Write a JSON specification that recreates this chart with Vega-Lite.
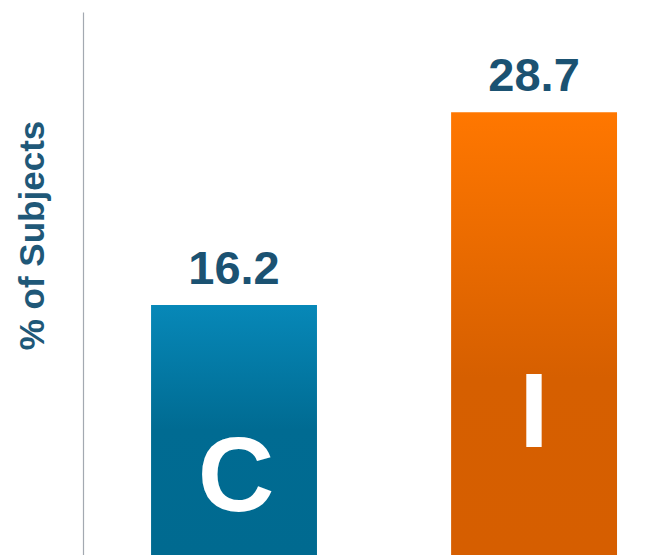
{
  "$schema": "https://vega.github.io/schema/vega-lite/v6.json",
  "width": 586,
  "height": 543,
  "autosize": {"type": "none"},
  "padding": {"left": 83, "top": 12, "right": 0, "bottom": 0},
  "background": "white",
  "config": {"view": {"stroke": null}},
  "data": {"values": [{"group": "C", "pct": 16.2}, {"group": "I", "pct": 28.7}]},
  "encoding": {
    "x": {"field": "group", "type": "nominal", "scale": {"paddingInner": 0.447, "paddingOuter": 0.2, "align": 0.567}, "axis": null},
    "y": {"field": "pct", "type": "quantitative", "scale": {"domain": [0, 35.2], "nice": false},
      "axis": {"title": "% of Subjects", "labels": false, "ticks": false, "grid": false,
        "domainColor": "#a3a9b1", "domainWidth": 1.2,
        "titleFont": "Liberation Sans", "titleFontSize": 35, "titleFontWeight": "bold", "titleColor": "#1f5878",
        "titleX": -51, "titleY": 223, "titleAngle": -90, "titleAlign": "center", "titleBaseline": "middle"}}
  },
  "layer": [
    {"mark": {"type": "bar"},
     "encoding": {"color": {"condition": {"test": "datum.group === 'C'",
        "value": {"gradient": "linear", "x1": 0, "y1": 0, "x2": 0, "y2": 1, "stops": [{"offset": 0, "color": "#0788b8"}, {"offset": 0.5, "color": "#006b92"}, {"offset": 1, "color": "#006a90"}]}},
        "value": {"gradient": "linear", "x1": 0, "y1": 0, "x2": 0, "y2": 1, "stops": [{"offset": 0, "color": "#ff7700"}, {"offset": 0.6, "color": "#d65f00"}, {"offset": 1, "color": "#d65e00"}]}}}},
    {"mark": {"type": "text", "baseline": "alphabetic", "align": "center", "dy": -21, "font": "Liberation Sans", "fontSize": 47, "fontWeight": "bold", "color": "#1b5272"},
     "encoding": {"text": {"field": "pct", "type": "quantitative", "format": ".1f"}}},
    {"transform": [{"filter": "datum.group === 'C'"}],
     "mark": {"type": "text", "baseline": "alphabetic", "align": "center", "dy": -44, "dx": 2, "font": "Liberation Sans", "fontSize": 106, "fontWeight": "bold", "color": "white"},
     "encoding": {"y": {"datum": 0, "type": "quantitative"}, "text": {"field": "group"}}},
    {"transform": [{"filter": "datum.group === 'I'"}],
     "mark": {"type": "text", "baseline": "alphabetic", "align": "center", "dy": -108, "font": "Liberation Sans", "fontSize": 106, "fontWeight": "bold", "color": "white"},
     "encoding": {"y": {"datum": 0, "type": "quantitative"}, "text": {"field": "group"}}}
  ]
}
